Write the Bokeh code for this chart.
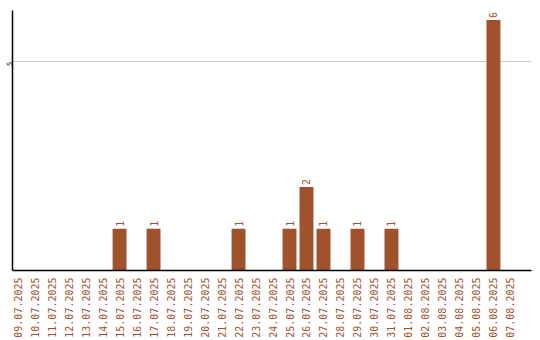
from math import pi

from bokeh.core.properties import value
from bokeh.embed import file_html
from bokeh.models import ColumnDataSource, FixedTicker, Range1d
from bokeh.plotting import figure
from bokeh.resources import INLINE

# Daily counts, 09.07.2025 - 07.08.2025
dates = [
    "09.07.2025", "10.07.2025", "11.07.2025", "12.07.2025", "13.07.2025",
    "14.07.2025", "15.07.2025", "16.07.2025", "17.07.2025", "18.07.2025",
    "19.07.2025", "20.07.2025", "21.07.2025", "22.07.2025", "23.07.2025",
    "24.07.2025", "25.07.2025", "26.07.2025", "27.07.2025", "28.07.2025",
    "29.07.2025", "30.07.2025", "31.07.2025", "01.08.2025", "02.08.2025",
    "03.08.2025", "04.08.2025", "05.08.2025", "06.08.2025", "07.08.2025",
]
counts = [0, 0, 0, 0, 0, 0, 1, 0, 1, 0,
          0, 0, 0, 1, 0, 0, 1, 2, 1, 0,
          1, 0, 1, 0, 0, 0, 0, 0, 6, 0]
y_ticks = [5]

BAR = "#A0522D"
FONT = "DejaVu Sans Mono"

idx = list(range(len(dates)))
nz = [i for i in idx if counts[i] > 0]
bars = ColumnDataSource(dict(x=idx, top=counts))
labels = ColumnDataSource(dict(
    x=nz,
    y=[counts[i] for i in nz],
    t=[str(counts[i]) for i in nz],
))

p = figure(
    width=540, height=340,
    output_backend="svg", toolbar_location=None,
    x_range=Range1d(-0.3, 30.24), y_range=Range1d(0, 6.226),
    min_border_left=0, min_border_right=9,
    min_border_top=10, min_border_bottom=0,
)
p.outline_line_color = None
p.background_fill_color = "white"
p.border_fill_color = "white"

p.vbar(x="x", top="top", width=0.82, bottom=0, source=bars,
       fill_color=BAR, line_color=None)

# value labels above each non-empty bar
p.text(x="x", y="y", text="t", source=labels, angle=pi / 2,
       y_offset=-2,
       text_align="left", text_baseline="middle",
       text_color=BAR, text_font=value(FONT), text_font_size="10px")

# x axis: one vertical date label per day
p.xaxis.ticker = FixedTicker(ticks=idx)
p.xaxis.major_label_overrides = {i: d for i, d in zip(idx, dates)}
p.xaxis.major_label_orientation = pi / 2
p.xaxis.major_label_text_color = BAR
p.xaxis.major_label_text_font = FONT
p.xaxis.major_label_text_font_size = "10px"
p.xaxis.major_label_standoff = 7
p.xaxis.major_tick_out = 0
p.xaxis.major_tick_in = 0
p.xaxis.minor_tick_line_color = None
p.xaxis.axis_line_color = "black"
p.xaxis.axis_line_width = 1.5

# y axis
p.yaxis.ticker = FixedTicker(ticks=y_ticks)
p.yaxis.major_label_orientation = pi / 2
p.yaxis.major_label_text_font = FONT
p.yaxis.major_label_text_font_size = "7px"
p.yaxis.major_label_text_color = "black"
p.yaxis.major_label_standoff = 3
p.yaxis.major_tick_out = 0
p.yaxis.major_tick_in = 0
p.yaxis.minor_tick_line_color = None
p.yaxis.axis_line_color = "black"
p.yaxis.axis_line_width = 1.5

p.xgrid.grid_line_color = None
p.ygrid.ticker = FixedTicker(ticks=y_ticks)
p.ygrid.grid_line_color = "#cccccc"

open("out.html", "w").write(file_html(p, INLINE))
